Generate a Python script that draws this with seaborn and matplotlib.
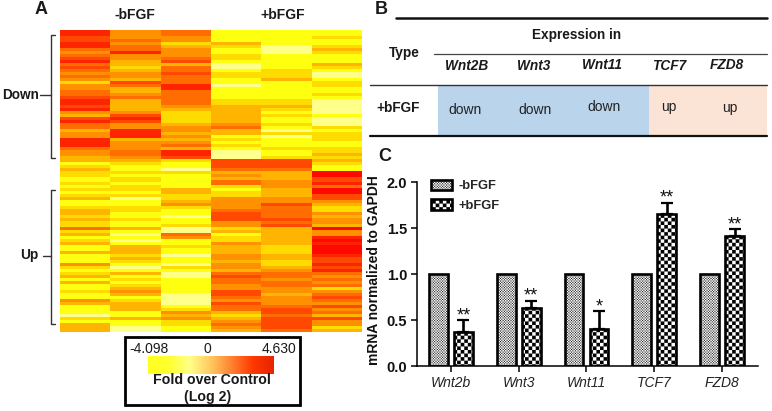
import numpy as np
import pandas as pd
import matplotlib
matplotlib.use("Agg")
import matplotlib.pyplot as plt
import matplotlib.hatch as mhatch
from matplotlib.path import Path
from matplotlib.patches import Patch, Rectangle
from matplotlib.colors import ListedColormap, LinearSegmentedColormap
import seaborn as sns

# ---------- Panel A data: colour levels per sample (0 pale ... 8 red), top to bottom
minus1 = [7,7,6,6,7,7,5,4,5,6,7,5,6,5,4,5,4,2,4,4,5,5,6,7,7,6,7,4,3,6,7,5,5,3,
          4,4,7,7,7,5,4,4,3,3,1,2,3,2,2,1,1,2,1,2,1,2,3,1,1,2,3,3,2,3,2,2,5,2,
          3,1,2,3,1,1,3,1,1,1,4,2,1,2,3,1,3,1,1,2,1,1,4,3,1,1,1,0,2,1,3,3,3]
minus2 = [4,4,4,5,4,5,5,7,4,4,3,3,2,3,4,4,3,6,5,3,3,4,5,3,3,3,3,4,6,7,6,4,4,7,
          7,7,3,4,4,4,5,5,4,3,2,1,1,2,1,2,2,1,2,2,1,2,0,1,1,2,2,1,1,2,1,1,3,1,
          0,1,0,1,3,3,3,2,3,2,1,0,1,3,1,2,1,2,3,4,3,1,2,3,3,3,1,1,3,1,1,0,0]
minus3 = [5,5,4,4,2,3,4,4,4,5,6,3,5,5,6,5,5,5,7,7,5,5,5,5,5,4,3,2,2,2,2,3,4,4,
          3,4,3,4,5,3,7,7,6,2,1,1,0,2,1,1,1,1,1,3,3,2,2,3,4,2,1,1,0,1,1,2,0,0,
          5,4,1,1,2,1,1,0,1,1,0,2,1,0,0,1,1,1,1,1,0,0,0,0,1,2,4,3,4,2,2,1,1]
plus1 = [1,1,1,1,3,2,1,1,2,2,1,0,0,1,2,2,1,1,0,1,1,1,1,2,2,3,3,3,3,3,3,4,5,3,
         3,1,2,1,2,1,0,0,0,6,6,6,5,3,4,3,5,5,2,1,2,2,4,4,4,4,5,6,6,6,4,4,2,3,
         1,2,2,4,3,3,3,4,4,3,4,4,3,5,6,5,5,4,4,6,6,5,4,6,5,5,3,2,3,4,5,4,3]
plus2 = [1,1,1,1,1,0,0,0,1,1,1,1,1,2,2,2,3,1,1,1,1,1,1,2,2,3,2,1,2,1,1,2,1,0,
         2,0,1,1,1,2,1,1,2,6,6,6,5,3,3,3,4,4,4,3,3,3,4,4,6,5,5,5,5,6,5,6,3,3,
         3,3,3,3,2,2,2,3,3,2,2,3,4,5,5,4,5,5,4,4,3,4,4,4,5,6,6,5,6,6,6,6,5]
plus3 = [1,1,2,1,1,2,3,2,1,1,1,3,2,1,0,0,1,2,2,1,1,2,1,0,0,0,0,0,1,0,0,0,2,1,
         2,2,2,1,1,2,2,3,2,3,2,1,1,8,8,6,6,7,5,8,8,6,6,4,3,2,2,4,3,4,4,3,8,4,
         4,7,8,7,8,8,8,7,6,6,7,6,7,5,4,5,4,5,2,4,5,6,5,4,6,4,5,3,6,4,4,2,3]
sample_names = ["m1", "m2", "m3", "p1", "p2", "p3"]
level_colors = ["#FFFF8C", "#FFFF10", "#FFDC00", "#FFB400", "#FF9000",
                "#FF6C00", "#FF4800", "#FF2400", "#FF0800"]
gradient_colors = ["#FFFF20", "#FFFF30", "#FFFF88", "#FFC860", "#FF8030", "#FF3800", "#E62400"]

# ---------- Panel B data
table_genes = ["Wnt2B", "Wnt3", "Wnt11", "TCF7", "FZD8"]
table_calls = ["down", "down", "down", "up", "up"]

# ---------- Panel C data
genes = ["Wnt2b", "Wnt3", "Wnt11", "TCF7", "FZD8"]
minus_bfgf = [1.0, 1.0, 1.0, 1.0, 1.0]
plus_bfgf = [0.37, 0.63, 0.40, 1.65, 1.42]
plus_err = [0.13, 0.08, 0.20, 0.13, 0.07]
stars = ["**", "**", "*", "**", "**"]

W, H = 772, 411
plt.rcParams["font.family"] = ["Liberation Sans", "DejaVu Sans"]
plt.rcParams["hatch.linewidth"] = 0.05
plt.rcParams["hatch.color"] = "black"


class _Checker(mhatch.HatchPatternBase):
    filled = True
    letter = "O"
    cells = 28
    scale = 1.0

    def __init__(self, hatch, density):
        on = hatch.count(self.letter) > 0
        n = self.cells if on else 0
        self.n = n
        self.num_vertices = n * n // 2 * 5 if n else 0

    def set_vertices_and_codes(self, vertices, codes):
        n = self.n
        if not n:
            return
        c = 1.0 / n
        s = c * self.scale
        k = 0
        for i in range(n):
            for j in range(n):
                if (i + j) % 2 == 0:
                    x, y = i * c, j * c
                    vertices[k:k + 5] = [(x, y), (x + s, y), (x + s, y + s), (x, y + s), (x, y)]
                    codes[k:k + 5] = [Path.MOVETO, Path.LINETO, Path.LINETO, Path.LINETO, Path.CLOSEPOLY]
                    k += 5


class _Fine(_Checker):
    letter = "o"
    cells = 76
    scale = 0.75


mhatch._hatch_types = [_Checker, _Fine]


def px_axes(fig, x0, y0, x1, y1):
    return fig.add_axes([x0 / W, 1 - y1 / H, (x1 - x0) / W, (y1 - y0) / H])


sns.set_style("white")
plt.rcParams["font.family"] = ["Liberation Sans", "DejaVu Sans"]
fig = plt.figure(figsize=(W / 100, H / 100), dpi=100, facecolor="white")

# ---------- Panel A heatmap
ax_heat = px_axes(fig, 60, 30, 362, 332)
heat = pd.DataFrame(dict(zip(sample_names, [minus1, minus2, minus3, plus1, plus2, plus3])))
sns.heatmap(heat, ax=ax_heat, cmap=ListedColormap(level_colors), vmin=-0.5, vmax=8.5,
            cbar=False, xticklabels=False, yticklabels=False)

# ---------- Panel A colour key
ax_key = px_axes(fig, 148, 356, 274, 374)
ax_key.imshow(np.linspace(-4.098, 4.630, 256)[None, :], aspect="auto",
              cmap=LinearSegmentedColormap.from_list("fold", gradient_colors))
ax_key.axis("off")

# ---------- Panel C bars
ax = px_axes(fig, 417, 182.3, 758, 366)
long = pd.DataFrame({
    "gene": genes * 2,
    "value": minus_bfgf + plus_bfgf,
    "group": ["-bFGF"] * len(genes) + ["+bFGF"] * len(genes),
})
sns.barplot(data=long, x="gene", y="value", hue="group", order=genes, ax=ax, errorbar=None,
            width=0.74, gap=0.25, legend=False, palette=["white", "white"],
            edgecolor="black", linewidth=1.9)
bars = [p for p in ax.patches]
n = len(genes)
for p in bars[:n]:
    p.set_hatch("o")
for p in bars[n:n * 2]:
    p.set_hatch("O")
for p, top, e, s in zip(bars[n:n * 2], plus_bfgf, plus_err, stars):
    cx = p.get_x() + p.get_width() / 2
    ax.errorbar(cx, top, yerr=[[0], [e]], color="black", elinewidth=1.9, capsize=4.6, capthick=1.6, zorder=1)
    ax.text(cx, top + e - 0.045, s, ha="center", va="bottom", fontsize=13, color="#111111")
ax.set_xlim(-0.5, 4.53)
ax.set_ylim(0, 2)
ax.set_yticks([0, 0.5, 1.0, 1.5, 2.0])
ax.set_yticklabels(["0.0", "0.5", "1.0", "1.5", "2.0"], fontsize=10.5, fontweight="bold", color="#111111")
ax.set_xticks(range(n))
ax.set_xticklabels(genes, fontsize=10, fontstyle="italic", color="#222222")
ax.set_xlabel("")
ax.set_ylabel("mRNA normalized to GAPDH", fontsize=10, fontweight="bold", color="#111111")
ax.yaxis.set_label_coords(-0.105, 0.523)
ax.tick_params(axis="both", length=4, width=1.1, color="black", left=True, bottom=True, pad=3)
sns.despine(ax=ax)
for sp in ("left", "bottom"):
    ax.spines[sp].set_linewidth(1.1)
    ax.spines[sp].set_color("black")
leg = ax.legend(handles=[Patch(facecolor="white", edgecolor="black", hatch="o", linewidth=1.9, label="-bFGF"),
                         Patch(facecolor="white", edgecolor="black", hatch="O", linewidth=1.9, label="+bFGF")],
                loc="upper left", bbox_to_anchor=(0.022, 1.05), frameon=False, handlelength=1.65,
                handleheight=0.9, labelspacing=0.5, handletextpad=0.5, borderpad=0,
                prop={"weight": "bold", "size": 9.3})

# ---------- Overlay in pixel coordinates: labels, brackets and table rules
ov = fig.add_axes([0, 0, 1, 1], zorder=5)
ov.set_xlim(0, W)
ov.set_ylim(H, 0)
ov.axis("off")
ov.patch.set_alpha(0)


def t(x, y, s, size=10, weight="normal", style="normal", color="#1a1a1a"):
    ov.text(x, y, s, ha="center", va="center", fontsize=size, fontweight=weight, fontstyle=style, color=color)


t(41, 10, "A", 13, "bold")
t(135, 15, "-bFGF", 10, "bold")
t(283, 15, "+bFGF", 10, "bold")
t(21, 95, "Down", 9.8, "bold")
t(29, 255, "Up", 9.8, "bold")
for top, bottom, mid, x_end in [(35, 158, 95, 40), (190, 324, 256, 43)]:
    ov.plot([55, 51, 51, 55], [top, top, bottom, bottom], color="#333333", lw=1.0)
    ov.plot([x_end, 51], [mid, mid], color="#333333", lw=1.0)

ov.add_patch(Rectangle((124.5, 336.5), 175, 68, fill=False, edgecolor="black", lw=2))
t(149, 349, "-4.098", 10)
t(207, 349, "0", 10)
t(279, 349, "4.630", 10)
t(212, 380, "Fold over Control", 10.2, "bold")
t(208, 397, "(Log 2)", 10.2, "bold")

# Panel B table
t(381, 10, "B", 13, "bold")
t(385, 156, "C", 13, "bold")
ov.add_patch(Rectangle((438, 86), 211, 50, facecolor="#B9D4EB", edgecolor="none"))
ov.add_patch(Rectangle((649, 86), 118, 50, facecolor="#FBE4D6", edgecolor="none"))
ov.plot([396, 767], [18, 18], color="#111111", lw=1.8)
ov.plot([434, 767], [54, 54], color="#444444", lw=0.9)
ov.plot([370, 767], [85.5, 85.5], color="#333333", lw=1.0)
ov.plot([370, 767], [136, 136], color="#111111", lw=1.6)
t(577, 35, "Expression in", 9.8, "bold")
t(404, 53, "Type", 9.8, "bold")
t(398, 108, "+bFGF", 9.8, "bold")
for x, y, g in zip([467, 534, 602, 669, 727], [66, 66, 65, 66, 65], table_genes):
    t(x, y, g, 9.8, "bold", "italic")
for x, y, c in zip([465, 535, 604, 669, 730], [110, 110, 107, 107, 108], table_calls):
    t(x, y, c, 10, color="#222222")

fig.savefig("out.png", dpi=100)
